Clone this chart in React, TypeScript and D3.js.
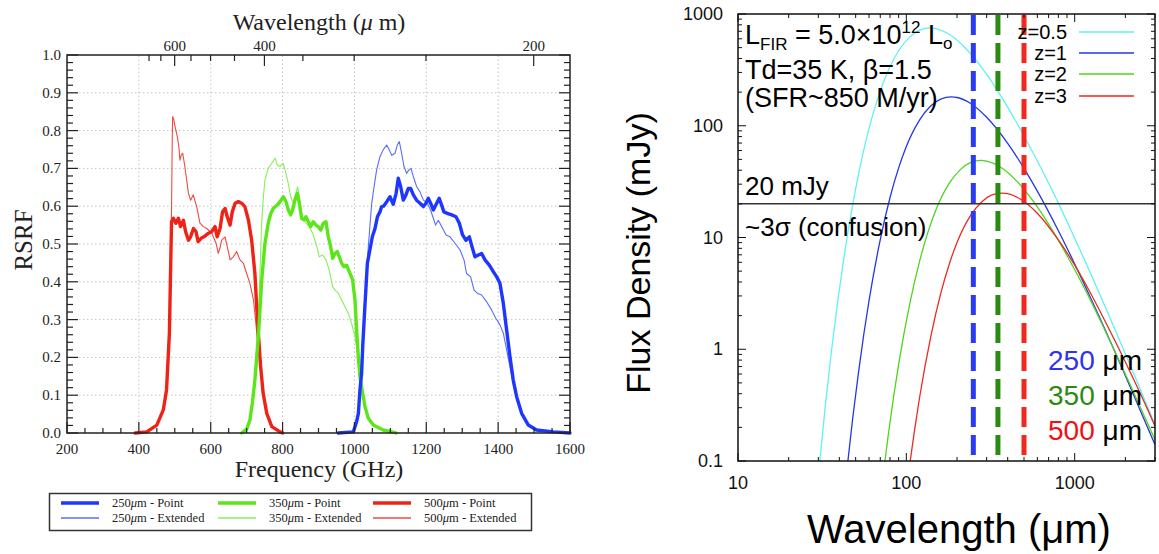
import React from "react";
import * as d3 from "d3";

const W = 1159;
const H = 554;

// ---------------- LEFT PANEL DATA (Frequency GHz, RSRF) ----------------
const freqTicks = [200, 400, 600, 800, 1000, 1200, 1400, 1600];
const rsrfTicks = [0, 0.1, 0.2, 0.3, 0.4, 0.5, 0.6, 0.7, 0.8, 0.9, 1.0];
const freqGrid = [400, 600, 800, 1000, 1200, 1400];
const rsrfGrid = [0.1, 0.2, 0.3, 0.4, 0.5, 0.6, 0.7, 0.8, 0.9];
const wlMajor = [600, 400, 200];
const wlMinor = [700, 650, 550, 500, 450, 350, 300, 250];

const red500Point: [number, number][] = [
  [390, 0], [422, 0.003], [450, 0.021], [468, 0.061], [477, 0.114], [485, 0.264], [488.5, 0.44], [491, 0.559],
  [496, 0.568], [503, 0.555], [510, 0.568], [516, 0.546], [524, 0.563], [530, 0.533], [538, 0.51], [544, 0.519],
  [552, 0.541], [559, 0.533], [565, 0.506], [573, 0.515], [581, 0.519], [593, 0.528], [603, 0.533], [612, 0.546],
  [618, 0.519], [626, 0.541], [633, 0.585], [640, 0.594], [646, 0.572], [654, 0.55], [660, 0.585], [668, 0.608],
  [677, 0.612], [686, 0.608], [695, 0.599], [705, 0.563], [714, 0.51], [723, 0.422], [728, 0.334], [732.5, 0.264],
  [739, 0.175], [746, 0.105], [756, 0.052], [770, 0.017], [793, 0.003], [800, 0],
];
const red500Ext: [number, number][] = [
  [390, 0], [422, 0.003], [450, 0.021], [468, 0.061], [477, 0.114], [485, 0.264], [488.5, 0.44], [491, 0.6],
  [493, 0.78], [494, 0.837], [497, 0.83], [501, 0.81], [507, 0.784], [511, 0.76], [514.5, 0.722], [518, 0.735],
  [522, 0.74], [528, 0.705], [533, 0.67], [538, 0.634], [544, 0.616], [551.6, 0.63], [556, 0.615], [561, 0.599],
  [570, 0.555], [579.5, 0.546], [589, 0.541], [603, 0.528], [615, 0.502], [621, 0.475], [626, 0.49], [630.5, 0.51],
  [640, 0.519], [646, 0.493], [654, 0.458], [663, 0.466], [672, 0.48], [681.5, 0.458], [691, 0.449], [700, 0.422],
  [709, 0.396], [719, 0.352], [723, 0.317], [730, 0.246], [739, 0.175], [746, 0.105], [756, 0.052], [770, 0.017],
  [793, 0.003], [800, 0],
];
const green350Point: [number, number][] = [
  [686, 0], [700, 0.01], [709, 0.034], [716, 0.08], [723, 0.14], [732.5, 0.255], [742, 0.405], [751, 0.502],
  [760, 0.555], [767, 0.58], [774, 0.594], [785, 0.603], [793, 0.612], [802, 0.625], [809.5, 0.612], [816, 0.59],
  [822.5, 0.577], [828, 0.59], [834.5, 0.616], [841, 0.634], [846.6, 0.608], [853, 0.568], [859.6, 0.564],
  [865, 0.572], [871.6, 0.559], [878, 0.546], [885.6, 0.559], [893, 0.55], [899.5, 0.546], [906, 0.537],
  [913.4, 0.555], [920.8, 0.559], [927.3, 0.519], [933.8, 0.493], [939.4, 0.462], [945.8, 0.475], [952.4, 0.48],
  [958, 0.466], [964.4, 0.449], [971, 0.44], [978.3, 0.444], [987.6, 0.422], [995, 0.405], [1001.5, 0.352],
  [1006, 0.272], [1010.8, 0.202], [1015.4, 0.149], [1023, 0.105], [1029.3, 0.07], [1038.6, 0.039],
  [1052.5, 0.021], [1080, 0.008], [1113, 0.001], [1116, 0],
];
const green350Ext: [number, number][] = [
  [686, 0], [700, 0.01], [709, 0.034], [716, 0.08], [723, 0.15], [732.5, 0.3], [738, 0.45], [742, 0.56],
  [747, 0.63], [751, 0.669], [760, 0.7], [769.6, 0.713], [778.9, 0.727], [785.4, 0.709], [792.8, 0.705],
  [802, 0.713], [809.5, 0.687], [816, 0.66], [822.5, 0.625], [830, 0.608], [837, 0.634], [842, 0.652],
  [848.5, 0.612], [856, 0.568], [865, 0.555], [874.4, 0.546], [883.7, 0.528], [893, 0.502], [902, 0.466],
  [911.5, 0.471], [921, 0.458], [930, 0.431], [939.4, 0.387], [946, 0.378], [955, 0.37], [964.4, 0.352],
  [973.7, 0.334], [983, 0.317], [992, 0.29], [1001.5, 0.255], [1006, 0.23], [1010.8, 0.19], [1015.4, 0.149],
  [1023, 0.105], [1029.3, 0.07], [1038.6, 0.039], [1052.5, 0.021], [1080, 0.008], [1113, 0.001], [1116, 0],
];
const blue250Point: [number, number][] = [
  [955, 0], [997, 0.003], [1006, 0.03], [1011, 0.052], [1015.4, 0.114], [1020, 0.158], [1023, 0.228],
  [1029.4, 0.34], [1036, 0.449], [1043, 0.484], [1050, 0.52], [1057, 0.54], [1064, 0.572], [1071, 0.585],
  [1076, 0.599], [1081, 0.6], [1090, 0.612], [1099, 0.625], [1108, 0.605], [1116, 0.634], [1122, 0.674],
  [1128.6, 0.652], [1136, 0.616], [1143.5, 0.63], [1150, 0.647], [1156.5, 0.647], [1164, 0.63], [1173, 0.616],
  [1182.5, 0.608], [1192, 0.599], [1199, 0.608], [1205.6, 0.621], [1212, 0.608], [1219.6, 0.59], [1229, 0.608],
  [1236, 0.621], [1242.7, 0.603], [1249, 0.585], [1258.5, 0.581], [1270.6, 0.577], [1282.6, 0.572], [1292, 0.555],
  [1301, 0.524], [1310.5, 0.51], [1319.7, 0.519], [1326, 0.497], [1335.5, 0.466], [1344.8, 0.471], [1354, 0.475],
  [1363.4, 0.458], [1375.4, 0.444], [1386.5, 0.427], [1396, 0.413], [1405, 0.396], [1414.4, 0.343],
  [1423.7, 0.272], [1433, 0.202], [1442, 0.14], [1451.5, 0.096], [1465.4, 0.052], [1484, 0.021], [1507, 0.008],
  [1553.5, 0.003], [1600, 0],
];
const blue250Ext: [number, number][] = [
  [955, 0], [997, 0.003], [1006, 0.03], [1011, 0.052], [1015.4, 0.114], [1020, 0.158], [1023, 0.228],
  [1029.4, 0.34], [1036, 0.46], [1038.7, 0.493], [1048, 0.607], [1052.6, 0.638], [1061.8, 0.696], [1071, 0.731],
  [1080, 0.749], [1089.7, 0.762], [1097, 0.749], [1103.6, 0.735], [1113, 0.74], [1119.4, 0.762], [1125, 0.771],
  [1131.4, 0.74], [1138, 0.705], [1145.3, 0.687], [1151.8, 0.696], [1157.4, 0.7], [1164, 0.678], [1173, 0.652],
  [1182.5, 0.638], [1192, 0.616], [1203, 0.608], [1212, 0.59], [1219.6, 0.568], [1226, 0.55], [1233.5, 0.563],
  [1242.7, 0.546], [1255, 0.524], [1266, 0.519], [1280, 0.502], [1294, 0.484], [1305, 0.458], [1312, 0.422],
  [1323.5, 0.413], [1333, 0.378], [1342, 0.37], [1354, 0.365], [1368, 0.347], [1382, 0.325], [1394, 0.303],
  [1405, 0.286], [1414.4, 0.264], [1423.7, 0.22], [1433, 0.175], [1442, 0.13], [1451.5, 0.09], [1465.4, 0.05],
  [1484, 0.021], [1507, 0.008], [1553.5, 0.003], [1600, 0],
];

const legendLabels = ["250", "350", "500"];
const legendKinds = ["Point", "Extended"];

// ---------------- RIGHT PANEL DATA (Wavelength um, Flux mJy) ----------------
const fluxTicks = [0.1, 1, 10, 100, 1000];
const fluxTickLabels = ["0.1", "1", "10", "100", "1000"];
const wlTicks = [10, 100, 1000];
const wlTickLabels = ["10", "100", "1000"];
const bandWavelengths = [250, 350, 500];
const bandNames = ["250", "350", "500"];
const zLabels = ["z=0.5", "z=1", "z=2", "z=3"];
const confusionLimit = 20;

const sedZ05: [number, number][] = [
  [30, 0.0735], [33, 0.31], [36, 0.994], [39, 2.59], [42, 5.74], [45, 11.2], [52.5, 39.6], [60, 94.4],
  [67.5, 174], [75, 270], [90, 469], [105, 624], [120, 716], [138.75, 750], [150, 740], [180, 658], [225, 494],
  [300, 288], [375, 172], [450, 108], [600, 48.4], [750, 24.9], [1050, 8.4], [1500, 2.5], [2250, 0.6], [3000, 0.21],
];
const sedZ1: [number, number][] = [
  [44, 0.0748], [48, 0.24], [52, 0.625], [56, 1.39], [60, 2.71], [70, 9.57], [80, 22.8], [90, 42], [100, 65.3],
  [120, 113], [140, 151], [160, 173], [185, 181], [200, 179], [240, 159], [300, 119], [400, 69.6], [500, 41.6],
  [600, 26], [800, 11.5], [1000, 5.8], [1400, 1.95], [2000, 0.58], [3000, 0.14],
];
const sedZ2: [number, number][] = [
  [72, 0.065], [78, 0.169], [84, 0.375], [90, 0.732], [105, 2.59], [120, 6.17], [135, 11.4], [150, 17.7],
  [180, 30.6], [210, 40.7], [240, 46.8], [277.5, 49], [300, 48.3], [360, 43], [450, 32.3], [600, 18.8],
  [750, 11.1], [900, 6.9], [1200, 3.05], [1500, 1.52], [2100, 0.51], [3000, 0.155],
];
const sedZ3: [number, number][] = [
  [96, 0.0332], [104, 0.0864], [112, 0.191], [120, 0.374], [140, 1.32], [160, 3.15], [180, 5.8], [200, 9.02],
  [240, 15.6], [280, 20.8], [320, 23.9], [370, 25], [400, 24.7], [480, 21.9], [600, 16.5], [800, 9.5],
  [1000, 5.65], [1200, 3.5], [1600, 1.52], [2000, 0.77], [2800, 0.26], [3000, 0.205],
];

// ---------------- STYLES ----------------
const serif = "'Liberation Serif', 'Times New Roman', Times, serif";
const sans = "'Liberation Sans', Arial, Helvetica, sans-serif";
const leftColors = {
  bluePoint: "#1e37ff", blueExt: "#5a6cff",
  greenPoint: "#5be61a", greenExt: "#86f05a",
  redPoint: "#ee2216", redExt: "#f04a40",
};
const zColors = ["#5ef2f2", "#2437e6", "#4fd41e", "#ea2b1f"];
const bandColors = ["#2a3cf2", "#2b8a10", "#f0281e"];
const bandTextColors = ["#2f33f0", "#2b8a10", "#f01010"];

export default function App() {
  // LEFT scales
  const xL = d3.scaleLinear().domain([200, 1600]).range([67, 570]);
  const yL = d3.scaleLinear().domain([0, 1]).range([433, 55]);
  const lineL = d3.line<[number, number]>().x((d) => xL(d[0])).y((d) => yL(d[1])).curve(d3.curveLinear);

  const freqMinor = d3.range(200, 1601, 50);
  const rsrfMinor = d3.range(0, 1.0001, 0.02);
  const c = 299792.458; // um*GHz

  // RIGHT scales
  const xR = d3.scaleLog().domain([10, 3000]).range([738, 1155]);
  const yR = d3.scaleLog().domain([0.1, 1000]).range([461, 14]);
  const lineR = d3.line<[number, number]>().x((d) => xR(d[0])).y((d) => yR(d[1])).curve(d3.curveMonotoneX);

  const xMinorR: number[] = [];
  [10, 100, 1000].forEach((dec) => {
    for (let m = 1; m <= 9; m++) {
      const v = dec * m;
      if (v >= 10 && v <= 3000) xMinorR.push(v);
    }
  });
  const yMinorR: number[] = [];
  [0.1, 1, 10, 100].forEach((dec) => {
    for (let m = 1; m <= 9; m++) yMinorR.push(dec * m);
  });
  yMinorR.push(1000);

  const [x0R, x1R] = xR.range();
  const [y0R, y1R] = [yR(1000), yR(0.1)];

  const leftSeries = [
    { d: red500Ext, color: leftColors.redExt, w: 1.1 },
    { d: green350Ext, color: leftColors.greenExt, w: 1.1 },
    { d: blue250Ext, color: leftColors.blueExt, w: 1.1 },
    { d: red500Point, color: leftColors.redPoint, w: 3.4 },
    { d: green350Point, color: leftColors.greenPoint, w: 3.4 },
    { d: blue250Point, color: leftColors.bluePoint, w: 3.4 },
  ];
  const sedSeries = [sedZ05, sedZ1, sedZ2, sedZ3];

  const legendCols = [
    { x: 61, point: leftColors.bluePoint, ext: leftColors.blueExt },
    { x: 218, point: leftColors.greenPoint, ext: leftColors.greenExt },
    { x: 373, point: leftColors.redPoint, ext: leftColors.redExt },
  ];

  return (
    <svg width={W} height={H} style={{ position: "absolute", left: 0, top: 0, background: "#fff" }}>
      <rect x={0} y={0} width={W} height={H} fill="#fff" />
      {/* ================= LEFT PANEL ================= */}
      <g>
        {/* grid */}
        {freqGrid.map((f) => (
          <line key={"gx" + f} x1={xL(f)} x2={xL(f)} y1={yL(0)} y2={yL(1)} stroke="#c4c4c4" strokeWidth={1} strokeDasharray="1.5,2.5" />
        ))}
        {rsrfGrid.map((r) => (
          <line key={"gy" + r} x1={xL(200)} x2={xL(1600)} y1={yL(r)} y2={yL(r)} stroke="#c4c4c4" strokeWidth={1} strokeDasharray="1.5,2.5" />
        ))}
        {/* curves */}
        {leftSeries.map((s, i) => (
          <path key={"ls" + i} d={lineL(s.d) || ""} fill="none" stroke={s.color} strokeWidth={s.w} strokeLinejoin="round" strokeLinecap="round" />
        ))}
        {/* frame */}
        <rect x={xL(200)} y={yL(1)} width={xL(1600) - xL(200)} height={yL(0) - yL(1)} fill="none" stroke="#222" strokeWidth={1.5} />
        {/* bottom ticks */}
        {freqMinor.map((f) => {
          const major = f % 200 === 0;
          return <line key={"bt" + f} x1={xL(f)} x2={xL(f)} y1={yL(0)} y2={yL(0) - (major ? 11 : 5)} stroke="#222" strokeWidth={1.2} />;
        })}
        {freqTicks.map((f) => (
          <text key={"bl" + f} x={xL(f)} y={454} fontFamily={serif} fontSize={15} textAnchor="middle" fill="#222">{f}</text>
        ))}
        {/* left & right ticks */}
        {rsrfMinor.map((r, i) => {
          const major = i % 5 === 0;
          const len = major ? 11 : 6;
          return (
            <g key={"yt" + i}>
              <line x1={xL(200)} x2={xL(200) + len} y1={yL(r)} y2={yL(r)} stroke="#222" strokeWidth={1.2} />
              <line x1={xL(1600)} x2={xL(1600) - len} y1={yL(r)} y2={yL(r)} stroke="#222" strokeWidth={1.2} />
            </g>
          );
        })}
        {rsrfTicks.map((r) => (
          <text key={"yl" + r} x={61} y={yL(r) + 5} fontFamily={serif} fontSize={15} textAnchor="end" fill="#222">{r.toFixed(1)}</text>
        ))}
        {/* top wavelength axis */}
        {wlMinor.map((w) => (
          <line key={"tm" + w} x1={xL(c / w)} x2={xL(c / w)} y1={yL(1)} y2={yL(1) + 6} stroke="#222" strokeWidth={1.2} />
        ))}
        {wlMajor.map((w) => (
          <g key={"tM" + w}>
            <line x1={xL(c / w)} x2={xL(c / w)} y1={yL(1)} y2={yL(1) + 11} stroke="#222" strokeWidth={1.2} />
            <text x={xL(c / w)} y={51} fontFamily={serif} fontSize={15} textAnchor="middle" fill="#222">{w}</text>
          </g>
        ))}
        {/* titles */}
        <text x={319} y={30} fontFamily={serif} fontSize={24} textAnchor="middle" fill="#222">
          Wavelength (<tspan fontStyle="italic">μ</tspan> m)
        </text>
        <text x={319} y={477} fontFamily={serif} fontSize={24} textAnchor="middle" fill="#222">Frequency (GHz)</text>
        <text transform="translate(32,240) rotate(-90)" fontFamily={serif} fontSize={25} textAnchor="middle" fill="#222">RSRF</text>
        {/* legend */}
        <rect x={49.5} y={493.5} width={482} height={37} fill="#fff" stroke="#333" strokeWidth={1.5} />
        {legendCols.map((col, i) => (
          <g key={"lg" + i}>
            {legendKinds.map((k, j) => (
              <g key={k}>
                <line x1={col.x} x2={col.x + 38} y1={j === 0 ? 503 : 518} y2={j === 0 ? 503 : 518}
                  stroke={j === 0 ? col.point : col.ext} strokeWidth={j === 0 ? 3.4 : 1.3} />
                <text x={col.x + 51} y={j === 0 ? 507 : 522} fontFamily={serif} fontSize={12.5} fill="#222">
                  {legendLabels[i]}<tspan fontStyle="italic">μ</tspan>m - {k}
                </text>
              </g>
            ))}
          </g>
        ))}
      </g>

      {/* ================= RIGHT PANEL ================= */}
      <defs>
        <clipPath id="clipR">
          <rect x={x0R} y={y0R} width={x1R - x0R} height={y1R - y0R} />
        </clipPath>
      </defs>
      <g>
        <g clipPath="url(#clipR)">
          {sedSeries.map((s, i) => (
            <path key={"sed" + i} d={lineR(s) || ""} fill="none" stroke={zColors[i]} strokeWidth={1.3} />
          ))}
        </g>
        {/* confusion line */}
        <line x1={x0R} x2={x1R} y1={yR(confusionLimit)} y2={yR(confusionLimit)} stroke="#333" strokeWidth={1.5} />
        {/* band dashed lines */}
        {bandWavelengths.map((b, i) => (
          <line key={"band" + b} x1={xR(b)} x2={xR(b)} y1={y0R + 1} y2={y1R - 1} stroke={bandColors[i]} strokeWidth={5} strokeDasharray="20,8" />
        ))}
        {/* frame */}
        <rect x={x0R} y={y0R} width={x1R - x0R} height={y1R - y0R} fill="none" stroke="#111" strokeWidth={1.5} />
        {/* x ticks */}
        {xMinorR.map((v) => {
          const major = wlTicks.includes(v);
          const len = major ? 8 : 4;
          return (
            <g key={"xr" + v}>
              <line x1={xR(v)} x2={xR(v)} y1={y1R} y2={y1R - len} stroke="#111" strokeWidth={1} />
              <line x1={xR(v)} x2={xR(v)} y1={y0R} y2={y0R + len} stroke="#111" strokeWidth={1} />
            </g>
          );
        })}
        {wlTicks.map((v, i) => (
          <text key={"xl" + v} x={xR(v)} y={489} fontFamily={sans} fontSize={18} textAnchor="middle" fill="#111">{wlTickLabels[i]}</text>
        ))}
        {/* y ticks */}
        {yMinorR.map((v, i) => {
          const major = fluxTicks.some((t) => Math.abs(t - v) < 1e-9);
          const len = major ? 8 : 4;
          return (
            <g key={"yr" + i}>
              <line x1={x0R} x2={x0R + len} y1={yR(v)} y2={yR(v)} stroke="#111" strokeWidth={1} />
              <line x1={x1R} x2={x1R - len} y1={yR(v)} y2={yR(v)} stroke="#111" strokeWidth={1} />
            </g>
          );
        })}
        {fluxTicks.map((v, i) => (
          <text key={"yl" + v} x={723} y={yR(v) + 6} fontFamily={sans} fontSize={18} textAnchor="end" fill="#111">{fluxTickLabels[i]}</text>
        ))}
        {/* axis titles */}
        <text x={959} y={543} fontFamily={sans} fontSize={40} textAnchor="middle" fill="#000">Wavelength (μm)</text>
        <text transform="translate(650,253) rotate(-90)" fontFamily={sans} fontSize={34} textAnchor="middle" fill="#000">Flux Density (mJy)</text>
        {/* annotation */}
        <text x={745} y={44} fontFamily={sans} fontSize={27} fill="#000">
          L<tspan fontSize={17} dy={6}>FIR</tspan>
          <tspan dy={-6}> = 5.0×10</tspan>
          <tspan fontSize={17} dy={-11}>12</tspan>
          <tspan dy={11}> L</tspan>
          <tspan fontSize={17} dy={5}>o</tspan>
        </text>
        <text x={745} y={79} fontFamily={sans} fontSize={27} fill="#000">Td=35 K, β=1.5</text>
        <text x={745} y={107} fontFamily={sans} fontSize={27} fill="#000">(SFR~850 M/yr)</text>
        <text x={745} y={195} fontFamily={sans} fontSize={26} fill="#000">20 mJy</text>
        <text x={745} y={236} fontFamily={sans} fontSize={26} fill="#000">~3σ (confusion)</text>
        {/* z legend */}
        {zLabels.map((z, i) => {
          const ly = [32, 53, 74, 96][i];
          return (
            <g key={z}>
              <rect x={1014} y={ly - 10} width={56} height={20} fill="#fff" opacity={0} />
              <text x={1067} y={ly + 7} fontFamily={sans} fontSize={20} textAnchor="end" fill="#000">{z}</text>
              <line x1={1079} x2={1134} y1={ly} y2={ly} stroke={zColors[i]} strokeWidth={1.5} />
            </g>
          );
        })}
        {/* band labels */}
        {bandNames.map((b, i) => (
          <text key={"bn" + b} x={1048} y={370 + i * 35} fontFamily={sans} fontSize={28} fill="#000">
            <tspan fill={bandTextColors[i]}>{b}</tspan> μm
          </text>
        ))}
      </g>
    </svg>
  );
}
